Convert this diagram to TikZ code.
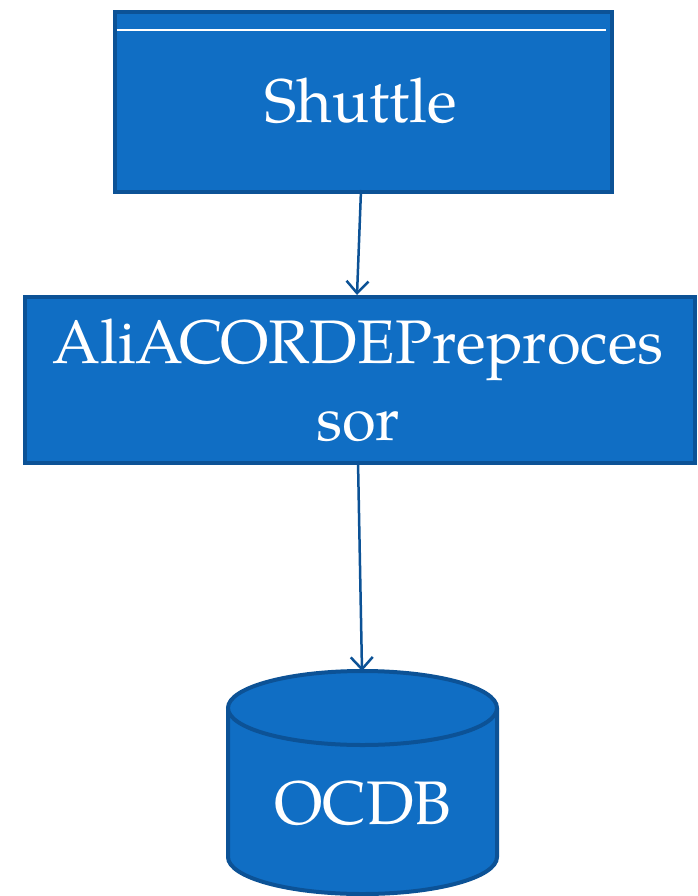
\documentclass[tikz,border=0pt]{standalone}
\usepackage{fontspec}
\setmainfont{TeX Gyre Pagella}
\usetikzlibrary{arrows.meta}
\definecolor{boxfill}{HTML}{106EC4}
\definecolor{boxline}{HTML}{0C5296}
\tikzset{
  bluebox/.style={draw=boxline, line width=4pt, fill=boxfill, inner sep=0pt},
  whitetext/.style={text=white, font=\fontsize{61.5}{77}\selectfont, align=center},
  conn/.style={draw=boxline, line width=2.5pt, -{Straight Barb[length=12pt,width=22pt,line width=2.5pt]}},
}
\begin{document}
\begin{tikzpicture}[x=1pt,y=-1pt]
\useasboundingbox[fill=white] (0,0) rectangle (697,896);
% Shuttle
\node[bluebox, minimum width=497pt, minimum height=180pt, anchor=north west] (shuttle) at (113,10) {};
\draw[white, line width=1.5pt] (117,30) -- (606,30);
\node[whitetext] (shuttletext) at (361,101) {Shuttle};
% Preprocessor
\node[bluebox, minimum width=670pt, minimum height=166pt, anchor=north west] (pre) at (23,295) {};
\node[whitetext] (pretext) at (358,380) {AliACORDEPreproces\\sor};
% Cylinder
\fill[boxfill] (228,708) -- (228,857) arc[start angle=180, end angle=360, x radius=134.5pt, y radius=37pt] -- (497,708) -- cycle;
\draw[boxline, line width=4pt] (228,708) -- (228,857) arc[start angle=180, end angle=360, x radius=134.5pt, y radius=37pt] -- (497,708);
\draw[boxline, line width=4pt, fill=boxfill] (362.5,708) ellipse[x radius=134.5pt, y radius=37pt];
\coordinate (cyltop) at (362,671);
\node[whitetext] (ocdb) at (363,803) {OCDB};
% Connectors
\draw[conn] (361,190) -- (pre.north -| 357,0);
\draw[conn] (358,461) -- (cyltop);
\end{tikzpicture}
\end{document}
